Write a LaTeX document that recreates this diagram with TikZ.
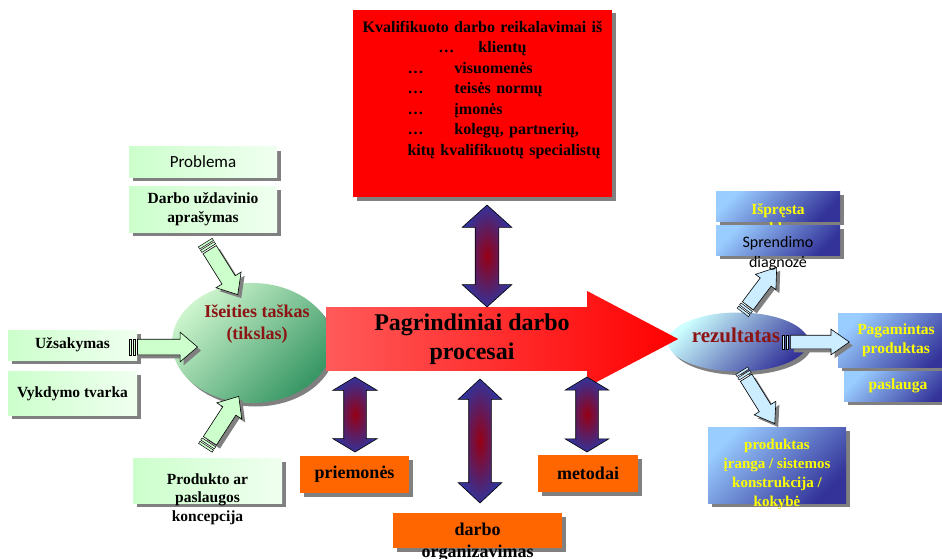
\documentclass[tikz,border=0pt]{standalone}
\usepackage{fontspec}
\setmainfont{Liberation Serif}
\newfontfamily\calibri{Carlito}
\usetikzlibrary{shapes,arrows,positioning,calc,shadows}

\definecolor{boxgreen}{RGB}{204,255,204}
\definecolor{palegreen}{RGB}{240,255,240}
\definecolor{lightleaf}{RGB}{205,245,205}
\definecolor{leafgreen}{RGB}{55,150,100}
\definecolor{skyblue}{RGB}{153,204,255}
\definecolor{navyblue}{RGB}{51,51,153}
\definecolor{iceblue}{RGB}{204,236,255}
\definecolor{paleteal}{RGB}{204,255,255}
\definecolor{procred}{RGB}{255,90,90}
\definecolor{orangefill}{RGB}{255,102,0}
\definecolor{wine}{RGB}{140,20,20}
\definecolor{dblcore}{RGB}{150,0,20}
\definecolor{textyellow}{RGB}{255,255,0}
\definecolor{shadowgray}{RGB}{128,128,128}

% rows hanging from the first baseline (text runs out of the box)
\newcommand\toprows[1]{\begin{tabular}[t]{@{}c@{}}#1\end{tabular}}

% two small bars behind the tail of a block arrow
\newcommand\stripes[2]{%
  \foreach \near/\far in {1.5pt/4pt,5.5pt/8pt}{%
    \path ($(#1.tail)!-\near!(#1.tip)$) coordinate (#1-n)
          ($(#1.tail)!-\far!(#1.tip)$) coordinate (#1-f);
    \draw[stripebar, fill=#2] ($(#1-n)+(#1.before tail)-(#1.tail)$)
      -- ($(#1-f)+(#1.before tail)-(#1.tail)$)
      -- ($(#1-f)+(#1.after tail)-(#1.tail)$)
      -- ($(#1-n)+(#1.after tail)-(#1.tail)$) -- cycle;
  }}

\begin{document}
\begin{tikzpicture}[
    x=1pt, y=-1pt,
    shadowed/.style={general shadow={fill=shadowgray, shadow xshift=3.5pt, shadow yshift=-3.5pt}},
    greenbox/.style={rectangle, left color=boxgreen, right color=palegreen, shadowed, inner sep=0pt, align=center, font=\bfseries\fontsize{15.5}{18.5}\selectfont},
    orangebox/.style={rectangle, fill=orangefill, shadowed, inner sep=0pt, align=center, minimum height=37pt, font=\bfseries\fontsize{18}{22}\selectfont},
    bluebox/.style={rectangle, top color=skyblue, bottom color=navyblue, shading angle=45, shadowed, inner sep=0pt, align=center, text=textyellow, font=\bfseries\fontsize{15.5}{19}\selectfont},
    goaltext/.style={inner sep=0pt, align=center, text=wine, font=\bfseries\fontsize{18}{22}\selectfont},
    dblarrow/.style={double arrow, draw=black, line width=0.6pt, inner color=dblcore, outer color=navyblue, inner xsep=0pt, rotate=90},
    garrow/.style={single arrow, draw=black, line width=0.6pt, fill=boxgreen, shadowed, inner xsep=0pt, inner ysep=7.5pt, minimum width=29pt, single arrow head extend=7pt, single arrow tip angle=81},
    barrow/.style={single arrow, draw=black, line width=0.6pt, fill=iceblue, shadowed, inner xsep=0pt, inner ysep=6.5pt, minimum width=25pt, single arrow head extend=6pt, single arrow tip angle=70},
    stripebar/.style={draw=black, line width=0.5pt}
]
    \useasboundingbox (0,0) rectangle (942,559);

    % Starting point
    \node[greenbox, minimum width=148pt, minimum height=30pt, font=\calibri\fontsize{17}{20}\selectfont] (problem) at (203,162) {Problema};
    \node[greenbox, minimum width=148pt, minimum height=46pt, below=9pt of problem] (task) {Darbo uždavinio\\aprašymas};
    \node[greenbox, minimum width=129pt, minimum height=30pt] (order) at (72.5,345) {Užsakymas};
    \node[greenbox, minimum width=129pt, minimum height=44pt, below=11pt of order] (rules) {Vykdymo tvarka};
    \node[greenbox, minimum width=149pt, text height=26pt, text depth=19pt] (concept) at (207.5,480.5) {\toprows{Produkto ar\\paslaugos\\koncepcija}};
    \node[ellipse, minimum width=160pt, minimum height=120pt, top color=lightleaf, bottom color=leafgreen, shading angle=45, shadowed] (start) at (252,343) {};
    \node[goaltext] (starttext) at ($(start)+(5,-19)$) {Išeities taškas\\(tikslas)};

    % Requirements
    \node[rectangle, fill=red, shadowed, minimum width=259pt, minimum height=187pt, inner sep=0pt] (req) at (482.5,103.5) {};
    \node[text width=240pt, inner sep=0pt, font=\bfseries\fontsize{16}{20.5}\selectfont, below=11pt of req.north] (reqtext) {%
        {\centering Kvalifikuoto darbo reikalavimai iš\\…\hspace{24pt}klientų\par}
        {\raggedright\leftskip=45pt
        \makebox[47pt][l]{…}visuomenės\\
        \makebox[47pt][l]{…}teisės normų\\
        \makebox[47pt][l]{…}įmonės\\
        \makebox[47pt][l]{…}kolegų, partnerių,\\
        kitų kvalifikuotų specialistų\par}};

    % Main process
    \node[ellipse, minimum width=140pt, minimum height=59pt, top color=paleteal, bottom color=navyblue, shading angle=45, shadowed] (result) at (738,342) {};
    \node[single arrow, left color=procred, right color=red, minimum height=352pt, minimum width=96pt, single arrow head extend=13pt, single arrow tip angle=55.6, inner sep=0pt, anchor=tail, align=center, font=\bfseries\fontsize{24}{29}\selectfont] (proc) at (326,339) {Pagrindiniai darbo\\procesai};
    \node[goaltext, font=\bfseries\fontsize{21}{25}\selectfont] (resulttext) at ($(result)+(-2,-7)$) {rezultatas};

    % Means
    \node[orangebox, minimum width=109pt] (tools) at (354.5,474.5) {priemonės};
    \node[orangebox, minimum width=100pt] (methods) at (588,473.5) {metodai};
    \node[orangebox, minimum width=169pt, minimum height=0pt, text height=22pt, text depth=13pt] (org) at (477.5,530.5) {\toprows{darbo\\organizavimas}};

    \node[dblarrow, minimum height=102pt, minimum width=49pt, inner ysep=11.5pt, double arrow head extend=13pt, double arrow tip angle=96] (reqlink) at (487,256) {};
    \node[dblarrow, minimum height=75pt, minimum width=44pt, inner ysep=11pt, double arrow head extend=11pt, double arrow tip angle=118] (toollink) at (355,414.5) {};
    \node[dblarrow, minimum height=124pt, minimum width=43pt, inner ysep=11pt, double arrow head extend=10.5pt, double arrow tip angle=94] (orglink) at (480,441) {};
    \node[dblarrow, minimum height=75pt, minimum width=43pt, inner ysep=11pt, double arrow head extend=10.5pt, double arrow tip angle=118] (methodlink) at (587,414.5) {};

    % Results
    \node[bluebox, minimum width=116pt, minimum height=54pt] (made) at (896,340) {Pagamintas\\produktas};
    \node[bluebox, minimum width=108pt, minimum height=30pt] (service) at (898,386) {paslauga};

    % Block arrows
    \node[garrow, minimum height=60pt, anchor=tail] (orderarrow) at ($(order.east)+(0,2)$) {};
    \stripes{orderarrow}{boxgreen}
    \node[garrow, minimum height=53pt, anchor=tip, rotate=-58] (taskarrow) at (238,295) {};
    \stripes{taskarrow}{boxgreen}
    \node[garrow, minimum height=53pt, anchor=tip, rotate=57] (conceptarrow) at (239,396) {};
    \stripes{conceptarrow}{boxgreen}
    \node[barrow, minimum height=59pt, anchor=tail] (madearrow) at (790,342) {};
    \stripes{madearrow}{iceblue}
    \node[barrow, minimum height=48pt, anchor=tip, rotate=53] (diagarrow) at (777,267) {};
    \stripes{diagarrow}{iceblue}
    \node[barrow, minimum height=54pt, anchor=tip, rotate=-58] (productarrow) at (775,424) {};
    \stripes{productarrow}{iceblue}

    \node[bluebox, minimum width=124pt, text height=23pt, text depth=7pt] (solved) at (778,206) {\toprows{Išpręsta\\problema}};
    \node[bluebox, minimum width=124pt, text height=22pt, text depth=8pt, below=4pt of solved, text=black, font=\calibri\fontsize{16}{20}\selectfont] (diagnosis) {\toprows{Sprendimo\\diagnozė}};
    \node[bluebox, minimum width=138pt, text height=22pt, text depth=54pt, font=\bfseries\fontsize{15}{19}\selectfont] (product) at (777,465) {\toprows{produktas\\įranga / sistemos\\konstrukcija /\\kokybė}};
\end{tikzpicture}
\end{document}
